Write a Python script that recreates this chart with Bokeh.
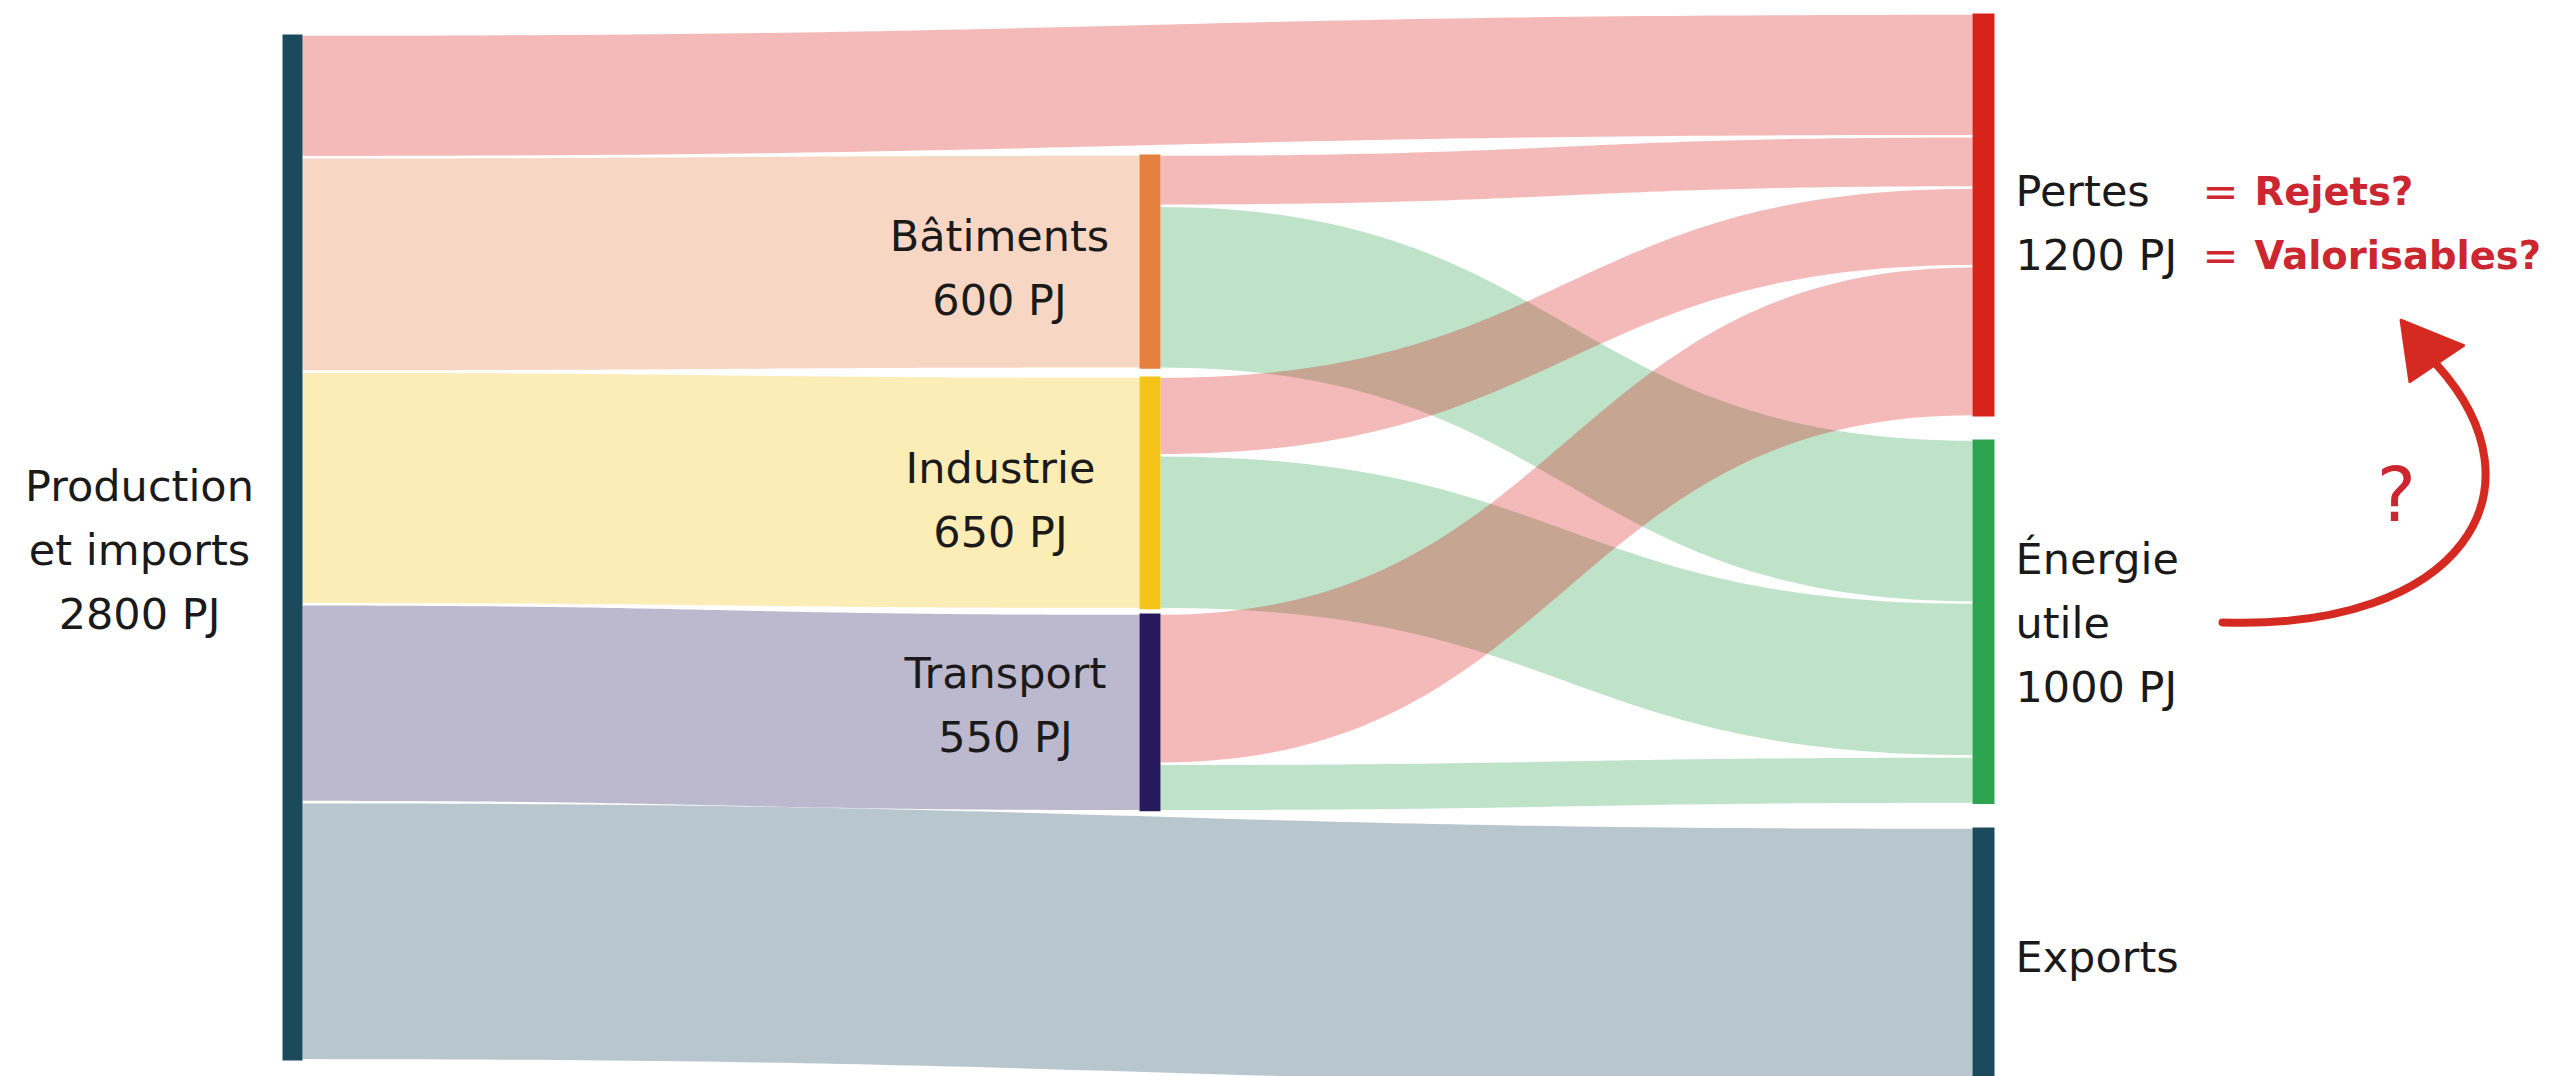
from bokeh.plotting import figure
from bokeh.models import Range1d
from bokeh.embed import file_html
from bokeh.resources import INLINE
from bokeh.core.properties import value
import numpy as np

# ---------------- data (PJ) ----------------
nodes = ["Production et imports", "Bâtiments", "Industrie", "Transport",
         "Pertes", "Énergie utile", "Exports"]
node_label_lines = [["Production", "et imports", "2800 PJ"],
                    ["Bâtiments", "600 PJ"],
                    ["Industrie", "650 PJ"],
                    ["Transport", "550 PJ"],
                    ["Pertes", "1200 PJ"],
                    ["Énergie", "utile", "1000 PJ"],
                    ["Exports"]]
flow_source = ["Production et imports"] * 5 + ["Bâtiments", "Industrie", "Transport"] * 2
flow_target = ["Pertes", "Bâtiments", "Industrie", "Transport", "Exports",
               "Énergie utile", "Énergie utile", "Énergie utile",
               "Pertes", "Pertes", "Pertes"]
flow_value = [335, 585, 635, 540, 705, 445, 420, 130, 140, 215, 410]
annot_eq = ["=", "="]
annot_words = ["Rejets?", "Valorisables?"]
annot_q = "?"

# ---------------- styling / layout ----------------
node_color = {"Production et imports": "#1B4A5C", "Bâtiments": "#E57F3E",
              "Industrie": "#F4C518", "Transport": "#261A5C",
              "Pertes": "#DC1E1E", "Énergie utile": "#2EA450", "Exports": "#1B4A5C"}
bar_color = dict(node_color)
bar_color["Pertes"] = "#D8231B"
node_x = {"Production et imports": (282, 302), "Bâtiments": (1139, 1160),
          "Industrie": (1139, 1160), "Transport": (1139, 1160),
          "Pertes": (1972, 1994), "Énergie utile": (1972, 1994), "Exports": (1972, 1994)}
node_top = {"Production et imports": 34, "Bâtiments": 154, "Industrie": 376,
            "Transport": 613, "Pertes": 13, "Énergie utile": 439, "Exports": 827}
# (alignment, x, vertical offset of the label block from the node centre)
label_pos = {"Production et imports": ("center", 139, 3), "Bâtiments": ("center", 999, 6),
             "Industrie": ("center", 1000, 7), "Transport": ("center", 1005, -7),
             "Pertes": ("left", 2015, 8), "Énergie utile": ("left", 2015, 1),
             "Exports": ("left", 2015, 0)}
K = 0.3664          # px per PJ
LINE = 64
FONT = "DejaVu Sans"
FSIZE = "43px"
RED = "#D42A22"
TRED = "#CC2630"

W, H = 2572, 1076
p = figure(width=W, height=H, output_backend="svg", toolbar_location=None,
           x_range=Range1d(0, W), y_range=Range1d(H, 0),
           min_border=0, outline_line_color=None, background_fill_color="white")
p.axis.visible = False
p.grid.visible = False

# node sizes
node_in = {n: 0 for n in nodes}
node_out = {n: 0 for n in nodes}
for s, t, v in zip(flow_source, flow_target, flow_value):
    node_out[s] += v
    node_in[t] += v
node_val = {n: max(node_in[n], node_out[n]) for n in nodes}

# stack slots
idx = list(range(len(flow_value)))
out_off = {}
for n in nodes:
    cur = node_top[n]
    for i in sorted([i for i in idx if flow_source[i] == n], key=lambda i: node_top[flow_target[i]]):
        out_off[i] = cur
        cur += flow_value[i] * K
in_off = {}
for n in nodes:
    cur = node_top[n]
    for i in sorted([i for i in idx if flow_target[i] == n], key=lambda i: node_top[flow_source[i]]):
        in_off[i] = cur
        cur += flow_value[i] * K

def bez(x0, y0, x1, y1, t):
    xm = (x0 + x1) / 2
    bx = (1 - t) ** 3 * x0 + 3 * (1 - t) ** 2 * t * xm + 3 * (1 - t) * t ** 2 * xm + t ** 3 * x1
    by = (1 - t) ** 3 * y0 + 3 * (1 - t) ** 2 * t * y0 + 3 * (1 - t) * t ** 2 * y1 + t ** 3 * y1
    return bx, by

t = np.linspace(0, 1, 80)
inset = 1.3
layers = [[i for i in idx if flow_target[i] != "Pertes"], [i for i in idx if flow_target[i] == "Pertes"]]
for layer in layers:
    xs, ys, cols = [], [], []
    for i in layer:
        s, tg = flow_source[i], flow_target[i]
        x0 = node_x[s][1]
        x1 = node_x[tg][0]
        w = flow_value[i] * K
        tx, ty = bez(x0, out_off[i] + inset, x1, in_off[i] + inset, t)
        bx, by = bez(x0, out_off[i] + w - inset, x1, in_off[i] + w - inset, t)
        xs.append(list(tx) + list(bx[::-1]))
        ys.append(list(ty) + list(by[::-1]))
        cols.append(node_color[tg])
    p.patches(xs=xs, ys=ys, fill_color=cols, fill_alpha=0.31, line_color=None)

# node bars
p.quad(left=[node_x[n][0] for n in nodes], right=[node_x[n][1] for n in nodes],
       top=[node_top[n] for n in nodes],
       bottom=[node_top[n] + node_val[n] * K for n in nodes],
       fill_color=[bar_color[n] for n in nodes], line_color=None)

# labels
for n, lines in zip(nodes, node_label_lines):
    align, lx, dy = label_pos[n]
    center = node_top[n] + node_val[n] * K / 2
    first = center + dy - (len(lines) - 1) * LINE / 2
    p.text(x=[lx] * len(lines), y=[first + j * LINE for j in range(len(lines))], text=lines,
           text_font=value(FONT), text_font_size=FSIZE, text_color="#1A1A1A",
           text_align=align, text_baseline="alphabetic")

# red annotations next to "Pertes"
pc = node_top["Pertes"] + node_val["Pertes"] * K / 2 + label_pos["Pertes"][2]
ann_y = [pc - LINE / 2, pc + LINE / 2]
p.text(x=[2202, 2202], y=ann_y, text=annot_eq, text_font=value(FONT), text_font_size=FSIZE,
       text_color=TRED, text_align="left", text_baseline="alphabetic")
p.text(x=[2254, 2254], y=ann_y, text=annot_words, text_font=value(FONT), text_font_size="38.5px",
       text_font_style="bold", text_color=TRED, text_align="left", text_baseline="alphabetic")

# curved arrow with question mark
p.bezier(x0=[2222], y0=[622], x1=[2436], y1=[364], cx0=[2460], cy0=[630],
         cx1=[2550], cy1=[490], line_color=RED, line_width=8, line_cap="round")
p.patch(x=[2400, 2409, 2464], y=[319, 382, 345], fill_color=RED, line_color=RED, line_width=2)
p.text(x=[2396], y=[494], text=[annot_q], text_font=value(FONT), text_font_size="74px",
       text_color=TRED, text_align="center", text_baseline="alphabetic")

open("out.html", "w").write(file_html(p, INLINE))
